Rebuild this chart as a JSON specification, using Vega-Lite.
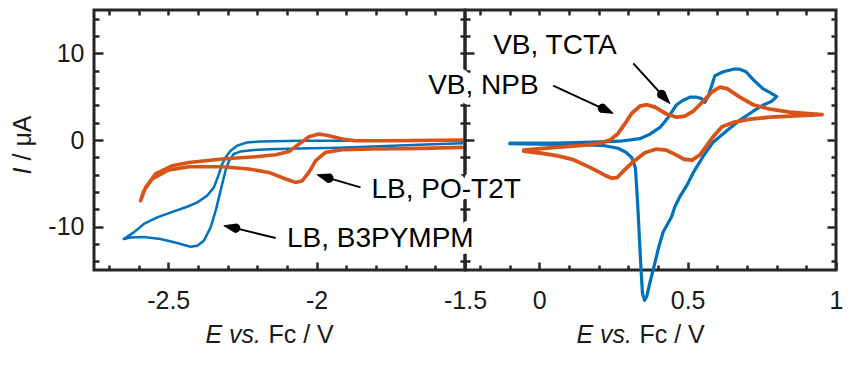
{
  "$schema": "https://vega.github.io/schema/vega-lite/v6.json",
  "background": "white",
  "padding": {"left": 8, "top": 7, "right": 20, "bottom": 10},
  "bounds": "flush",
  "spacing": 0,
  "config": {
    "view": {"stroke": "#262626", "strokeWidth": 3},
    "font": "Liberation Sans",
    "line": {"strokeCap": "round", "strokeJoin": "round"},
    "axis": {
      "grid": false, "domain": false,
      "tickColor": "#262626", "tickWidth": 2.5,
      "labelFont": "Liberation Sans", "labelFontSize": 25, "labelColor": "#1a1a1a",
      "titleFont": "Liberation Sans", "titleFontSize": 25, "titleFontWeight": "normal", "titleColor": "#1a1a1a",
      "labelOverlap": false, "labelFlush": false
    }
  },
  "datasets": {
    "b3pympm": [
      {"i":1,"E":-1.510,"I":-0.37},{"i":2,"E":-1.655,"I":-0.54},{"i":3,"E":-1.790,"I":-0.72},{"i":4,"E":-1.925,"I":-0.89},
      {"i":5,"E":-2.059,"I":-0.98},{"i":6,"E":-2.161,"I":-1.06},{"i":7,"E":-2.211,"I":-1.15},{"i":8,"E":-2.256,"I":-1.32},
      {"i":9,"E":-2.279,"I":-1.62},{"i":10,"E":-2.295,"I":-2.39},{"i":11,"E":-2.307,"I":-3.54},{"i":12,"E":-2.318,"I":-5.08},
      {"i":13,"E":-2.329,"I":-6.62},{"i":14,"E":-2.340,"I":-8.15},{"i":15,"E":-2.357,"I":-10.09},{"i":16,"E":-2.380,"I":-11.62},
      {"i":17,"E":-2.402,"I":-12.20},{"i":18,"E":-2.425,"I":-12.31},{"i":19,"E":-2.470,"I":-11.89},{"i":20,"E":-2.526,"I":-11.43},
      {"i":21,"E":-2.582,"I":-11.18},{"i":22,"E":-2.627,"I":-11.24},{"i":23,"E":-2.650,"I":-11.43},{"i":24,"E":-2.616,"I":-10.66},
      {"i":25,"E":-2.582,"I":-9.69},{"i":26,"E":-2.537,"I":-8.93},{"i":27,"E":-2.481,"I":-8.24},{"i":28,"E":-2.436,"I":-7.70},
      {"i":29,"E":-2.402,"I":-7.20},{"i":30,"E":-2.369,"I":-6.43},{"i":31,"E":-2.346,"I":-5.47},{"i":32,"E":-2.329,"I":-3.92},
      {"i":33,"E":-2.318,"I":-2.77},{"i":34,"E":-2.307,"I":-2.01},{"i":35,"E":-2.290,"I":-1.23},{"i":36,"E":-2.268,"I":-0.66},
      {"i":37,"E":-2.234,"I":-0.28},{"i":38,"E":-2.189,"I":-0.16},{"i":39,"E":-2.059,"I":-0.10},{"i":40,"E":-1.790,"I":-0.08},
      {"i":41,"E":-1.510,"I":-0.06}
    ],
    "pot2t": [
      {"i":1,"E":-1.509,"I":-0.85},{"i":2,"E":-1.644,"I":-0.97},{"i":3,"E":-1.812,"I":-1.04},{"i":4,"E":-1.914,"I":-1.12},
      {"i":5,"E":-1.970,"I":-1.43},{"i":6,"E":-2.003,"I":-2.39},{"i":7,"E":-2.026,"I":-3.74},{"i":8,"E":-2.048,"I":-4.70},
      {"i":9,"E":-2.071,"I":-4.89},{"i":10,"E":-2.104,"I":-4.50},{"i":11,"E":-2.161,"I":-3.74},{"i":12,"E":-2.228,"I":-3.35},
      {"i":13,"E":-2.318,"I":-3.08},{"i":14,"E":-2.430,"I":-3.08},{"i":15,"E":-2.498,"I":-3.46},{"i":16,"E":-2.554,"I":-4.50},
      {"i":17,"E":-2.582,"I":-5.85},{"i":18,"E":-2.593,"I":-7.00},{"i":19,"E":-2.576,"I":-5.47},{"i":20,"E":-2.543,"I":-3.92},
      {"i":21,"E":-2.487,"I":-2.97},{"i":22,"E":-2.430,"I":-2.59},{"i":23,"E":-2.318,"I":-2.19},{"i":24,"E":-2.206,"I":-1.93},
      {"i":25,"E":-2.138,"I":-1.70},{"i":26,"E":-2.093,"I":-1.32},{"i":27,"E":-2.059,"I":-0.46},{"i":28,"E":-2.026,"I":0.38},
      {"i":29,"E":-1.992,"I":0.69},{"i":30,"E":-1.958,"I":0.50},{"i":31,"E":-1.914,"I":0.12},{"i":32,"E":-1.869,"I":-0.08},
      {"i":33,"E":-1.756,"I":-0.08},{"i":34,"E":-1.509,"I":0.00}
    ],
    "tcta": [
      {"i":1,"E":-0.099,"I":-0.37},{"i":2,"E":0.059,"I":-0.35},{"i":3,"E":0.182,"I":-0.25},{"i":4,"E":0.272,"I":-0.14},
      {"i":5,"E":0.339,"I":0.15},{"i":6,"E":0.373,"I":0.67},{"i":7,"E":0.407,"I":1.45},{"i":8,"E":0.434,"I":2.57},
      {"i":9,"E":0.463,"I":4.07},{"i":10,"E":0.485,"I":4.59},{"i":11,"E":0.508,"I":4.94},{"i":12,"E":0.528,"I":4.96},
      {"i":13,"E":0.547,"I":4.77},{"i":14,"E":0.558,"I":4.34},{"i":15,"E":0.569,"I":5.00},{"i":16,"E":0.581,"I":6.27},
      {"i":17,"E":0.592,"I":7.42},{"i":18,"E":0.620,"I":7.88},{"i":19,"E":0.654,"I":8.17},{"i":20,"E":0.676,"I":8.17},
      {"i":21,"E":0.697,"I":7.88},{"i":22,"E":0.721,"I":6.96},{"i":23,"E":0.755,"I":5.89},{"i":24,"E":0.781,"I":5.40},
      {"i":25,"E":0.800,"I":5.00},{"i":26,"E":0.784,"I":4.48},{"i":27,"E":0.754,"I":4.02},{"i":28,"E":0.721,"I":3.32},
      {"i":29,"E":0.676,"I":2.29},{"i":30,"E":0.632,"I":1.07},{"i":31,"E":0.586,"I":-0.25},{"i":32,"E":0.553,"I":-1.87},
      {"i":33,"E":0.519,"I":-3.77},{"i":34,"E":0.497,"I":-5.27},{"i":35,"E":0.474,"I":-6.54},{"i":36,"E":0.457,"I":-7.70},
      {"i":37,"E":0.446,"I":-8.85},{"i":38,"E":0.435,"I":-9.54},{"i":39,"E":0.418,"I":-10.58},{"i":40,"E":0.403,"I":-12.31},
      {"i":41,"E":0.390,"I":-14.16},{"i":42,"E":0.373,"I":-16.47},{"i":43,"E":0.362,"I":-18.08},{"i":44,"E":0.355,"I":-18.49},
      {"i":45,"E":0.348,"I":-17.74},{"i":46,"E":0.343,"I":-14.85},{"i":47,"E":0.338,"I":-11.62},{"i":48,"E":0.333,"I":-8.16},
      {"i":49,"E":0.328,"I":-5.27},{"i":50,"E":0.324,"I":-3.20},{"i":51,"E":0.312,"I":-2.04},{"i":52,"E":0.292,"I":-1.41},
      {"i":53,"E":0.265,"I":-0.95},{"i":54,"E":0.221,"I":-0.66},{"i":55,"E":0.137,"I":-0.54},{"i":56,"E":0.002,"I":-0.48},
      {"i":57,"E":-0.099,"I":-0.43}
    ],
    "npb": [
      {"i":1,"E":-0.052,"I":-1.18},{"i":2,"E":0.002,"I":-1.00},{"i":3,"E":0.070,"I":-0.83},{"i":4,"E":0.154,"I":-0.60},
      {"i":5,"E":0.205,"I":-0.37},{"i":6,"E":0.238,"I":-0.02},{"i":7,"E":0.265,"I":0.73},{"i":8,"E":0.289,"I":1.88},
      {"i":9,"E":0.312,"I":3.09},{"i":10,"E":0.339,"I":3.90},{"i":11,"E":0.363,"I":4.07},{"i":12,"E":0.390,"I":3.79},
      {"i":13,"E":0.429,"I":3.00},{"i":14,"E":0.463,"I":2.63},{"i":15,"E":0.491,"I":2.75},{"i":16,"E":0.519,"I":3.32},
      {"i":17,"E":0.553,"I":4.48},{"i":18,"E":0.581,"I":5.52},{"i":19,"E":0.609,"I":6.09},{"i":20,"E":0.633,"I":5.92},
      {"i":21,"E":0.676,"I":4.94},{"i":22,"E":0.721,"I":4.07},{"i":23,"E":0.778,"I":3.55},{"i":24,"E":0.845,"I":3.21},
      {"i":25,"E":0.896,"I":3.07},{"i":26,"E":0.953,"I":2.92},{"i":27,"E":0.896,"I":2.84},{"i":28,"E":0.845,"I":2.75},
      {"i":29,"E":0.778,"I":2.63},{"i":30,"E":0.710,"I":2.40},{"i":31,"E":0.654,"I":2.03},{"i":32,"E":0.616,"I":1.53},
      {"i":33,"E":0.586,"I":0.38},{"i":34,"E":0.562,"I":-0.77},{"i":35,"E":0.542,"I":-1.70},{"i":36,"E":0.515,"I":-2.33},
      {"i":37,"E":0.488,"I":-2.22},{"i":38,"E":0.463,"I":-1.75},{"i":39,"E":0.429,"I":-1.18},{"i":40,"E":0.393,"I":-1.06},
      {"i":41,"E":0.356,"I":-1.47},{"i":42,"E":0.317,"I":-2.50},{"i":43,"E":0.285,"I":-3.54},{"i":44,"E":0.262,"I":-4.35},
      {"i":45,"E":0.245,"I":-4.41},{"i":46,"E":0.221,"I":-4.06},{"i":47,"E":0.171,"I":-3.16},{"i":48,"E":0.115,"I":-2.27},
      {"i":49,"E":0.059,"I":-1.81},{"i":50,"E":0.002,"I":-1.50},{"i":51,"E":-0.052,"I":-1.29}
    ],
    "arrows": [
      {"panel":"L","name":"B3PYMPM","x1":-2.138,"y1":-11.31,"x2":-2.273,"y2":-10.17},
      {"panel":"L","name":"PO-T2T","x1":-1.852,"y1":-5.47,"x2":-1.959,"y2":-4.40},
      {"panel":"R","name":"NPB","x1":0.047,"y1":6.27,"x2":0.213,"y2":3.65},
      {"panel":"R","name":"TCTA","x1":0.317,"y1":8.84,"x2":0.413,"y2":5.24}
    ],
    "heads": [
      {"panel":"L","name":"B3PYMPM","k":0,"hx":-2.273,"hy":-10.17},
      {"panel":"L","name":"B3PYMPM","k":1,"hx":-2.312,"hy":-9.89},
      {"panel":"L","name":"PO-T2T","k":0,"hx":-1.959,"hy":-4.40},
      {"panel":"L","name":"PO-T2T","k":1,"hx":-1.998,"hy":-4.00},
      {"panel":"R","name":"NPB","k":0,"hx":0.213,"hy":3.65},
      {"panel":"R","name":"NPB","k":1,"hx":0.249,"hy":3.07},
      {"panel":"R","name":"TCTA","k":0,"hx":0.413,"hy":5.24},
      {"panel":"R","name":"TCTA","k":1,"hx":0.440,"hy":4.22}
    ],
    "notes": [
      {"label":"LB, B3PYMPM","x":-0.850,"y":-11.39},
      {"label":"LB, PO-T2T","x":-0.565,"y":-5.76},
      {"label":"VB, NPB","x":-0.374,"y":6.27},
      {"label":"VB, TCTA","x":-0.155,"y":10.79}
    ]
  },
  "hconcat": [
    {
      "width": 371, "height": 260,
      "layer": [
        {
          "data": {"name": "b3pympm"},
          "mark": {"type": "line", "color": "#0072BD", "strokeWidth": 2.5},
          "encoding": {
            "x": {"field": "E", "type": "quantitative", "scale": {"domain": [-2.75, -1.5], "nice": false, "zero": false},
              "axis": {"orient": "bottom", "values": [-2.5, -2.0, -1.5], "ticks": false,
                "labelExpr": "'' + datum.value", "labelPadding": 18,
                "title": "E vs.", "titleFontStyle": "italic", "titleX": 111, "titleY": 72, "titleAlign": "left", "titleAnchor": "start", "titleBaseline": "alphabetic"}},
            "y": {"field": "I", "type": "quantitative", "scale": {"domain": [-15, 15], "nice": false, "zero": false},
              "axis": {"orient": "left", "values": [-10, 0, 10], "ticks": false,
                "labelExpr": "'' + datum.value", "labelPadding": 10,
                "title": "I", "titleFontStyle": "italic", "titleAngle": 270, "titleX": -64, "titleY": 164, "titleAlign": "left", "titleAnchor": "start", "titleBaseline": "alphabetic"}},
            "order": {"field": "i", "type": "quantitative"}
          }
        },
        {
          "data": {"name": "pot2t"},
          "mark": {"type": "line", "color": "#D95319", "strokeWidth": 3.6},
          "encoding": {
            "x": {"field": "E", "type": "quantitative", "scale": {"domain": [-2.75, -1.5], "nice": false, "zero": false},
              "axis": {"orient": "bottom", "values": [-2.5, -2.0, -1.5], "tickSize": -8, "labels": false,
                "title": "Fc / V", "titleX": 174, "titleY": 72, "titleAlign": "left", "titleAnchor": "start", "titleBaseline": "alphabetic"}},
            "y": {"field": "I", "type": "quantitative", "scale": {"domain": [-15, 15], "nice": false, "zero": false},
              "axis": {"orient": "left", "values": [-10, 0, 10], "tickSize": -9, "labels": false,
                "title": "/ μA", "titleAngle": 270, "titleX": -64, "titleY": 150, "titleAlign": "left", "titleAnchor": "start", "titleBaseline": "alphabetic"}},
            "order": {"field": "i", "type": "quantitative"}
          }
        },
        {
          "data": {"name": "arrows"},
          "transform": [{"filter": "datum.panel == 'L'"}],
          "mark": {"type": "rule", "color": "black", "strokeWidth": 2},
          "encoding": {
            "x": {"field": "x1", "type": "quantitative", "scale": {"domain": [-2.75, -1.5], "nice": false, "zero": false},
              "axis": {"orient": "bottom", "values": [-2.7,-2.6,-2.4,-2.3,-2.2,-2.1,-1.9,-1.8,-1.7,-1.6], "tickSize": -5, "labels": false, "title": null}},
            "y": {"field": "y1", "type": "quantitative", "scale": {"domain": [-15, 15], "nice": false, "zero": false},
              "axis": {"orient": "left", "values": [-14,-12,-8,-6,-4,-2,2,4,6,8,12,14], "tickSize": -5, "labels": false, "title": null}},
            "x2": {"field": "x2"},
            "y2": {"field": "y2"}
          }
        },
        {
          "data": {"name": "heads"},
          "transform": [{"filter": "datum.panel == 'L'"}],
          "mark": {"type": "trail", "color": "black"},
          "encoding": {
            "x": {"field": "hx", "type": "quantitative", "scale": {"domain": [-2.75, -1.5], "nice": false, "zero": false},
              "axis": {"orient": "top", "values": [-2.7,-2.6,-2.5,-2.4,-2.3,-2.2,-2.1,-2.0,-1.9,-1.8,-1.7,-1.6], "tickSize": -5, "labels": false, "title": null}},
            "y": {"field": "hy", "type": "quantitative", "scale": {"domain": [-15, 15], "nice": false, "zero": false},
              "axis": {"orient": "right", "values": [-14,-12,-10,-8,-6,-4,-2,0,2,4,6,8,10,12,14], "tickSize": -5, "labels": false, "title": null}},
            "size": {"field": "k", "type": "quantitative", "scale": {"domain": [0, 1], "range": [9.5, 0], "zero": false}, "legend": null},
            "detail": {"field": "name"},
            "order": {"field": "k", "type": "quantitative"}
          }
        }
      ],
      "resolve": {"axis": {"x": "independent", "y": "independent"}}
    },
    {
      "width": 371, "height": 260,
      "layer": [
        {
          "data": {"name": "notes"},
          "mark": {"type": "text", "align": "left", "baseline": "middle", "fontSize": 28, "font": "Liberation Sans", "color": "white", "stroke": "white", "strokeWidth": 14, "strokeJoin": "round"},
          "encoding": {
            "x": {"field": "x", "type": "quantitative", "scale": {"domain": [-0.25, 1.0], "nice": false, "zero": false}, "axis": null},
            "y": {"field": "y", "type": "quantitative", "scale": {"domain": [-15, 15], "nice": false, "zero": false}, "axis": null},
            "text": {"field": "label"}
          }
        },
        {
          "data": {"name": "tcta"},
          "mark": {"type": "line", "color": "#0072BD", "strokeWidth": 3.2},
          "encoding": {
            "x": {"field": "E", "type": "quantitative", "scale": {"domain": [-0.25, 1.0], "nice": false, "zero": false},
              "axis": {"orient": "bottom", "values": [0, 0.5, 1.0], "ticks": false,
                "labelExpr": "'' + datum.value", "labelPadding": 18,
                "title": "E vs.", "titleFontStyle": "italic", "titleX": 111, "titleY": 72, "titleAlign": "left", "titleAnchor": "start", "titleBaseline": "alphabetic"}},
            "y": {"field": "I", "type": "quantitative", "scale": {"domain": [-15, 15], "nice": false, "zero": false},
              "axis": {"orient": "left", "values": [-10, 0, 10], "tickSize": -9, "labels": false, "title": null}},
            "order": {"field": "i", "type": "quantitative"}
          }
        },
        {
          "data": {"name": "npb"},
          "mark": {"type": "line", "color": "#D95319", "strokeWidth": 3.8},
          "encoding": {
            "x": {"field": "E", "type": "quantitative", "scale": {"domain": [-0.25, 1.0], "nice": false, "zero": false},
              "axis": {"orient": "bottom", "values": [0, 0.5, 1.0], "tickSize": -8, "labels": false,
                "title": "Fc / V", "titleX": 174, "titleY": 72, "titleAlign": "left", "titleAnchor": "start", "titleBaseline": "alphabetic"}},
            "y": {"field": "I", "type": "quantitative", "scale": {"domain": [-15, 15], "nice": false, "zero": false},
              "axis": {"orient": "left", "values": [-14,-12,-8,-6,-4,-2,2,4,6,8,12,14], "tickSize": -5, "labels": false, "title": null}},
            "order": {"field": "i", "type": "quantitative"}
          }
        },
        {
          "data": {"name": "arrows"},
          "transform": [{"filter": "datum.panel == 'R'"}],
          "mark": {"type": "rule", "color": "black", "strokeWidth": 2},
          "encoding": {
            "x": {"field": "x1", "type": "quantitative", "scale": {"domain": [-0.25, 1.0], "nice": false, "zero": false},
              "axis": {"orient": "bottom", "values": [-0.2,-0.1,0.1,0.2,0.3,0.4,0.6,0.7,0.8,0.9], "tickSize": -5, "labels": false, "title": null}},
            "y": {"field": "y1", "type": "quantitative", "scale": {"domain": [-15, 15], "nice": false, "zero": false},
              "axis": {"orient": "right", "values": [-10, 0, 10], "tickSize": -9, "labels": false, "title": null}},
            "x2": {"field": "x2"},
            "y2": {"field": "y2"}
          }
        },
        {
          "data": {"name": "heads"},
          "transform": [{"filter": "datum.panel == 'R'"}],
          "mark": {"type": "trail", "color": "black"},
          "encoding": {
            "x": {"field": "hx", "type": "quantitative", "scale": {"domain": [-0.25, 1.0], "nice": false, "zero": false},
              "axis": {"orient": "top", "values": [-0.2,-0.1,0,0.1,0.2,0.3,0.4,0.5,0.6,0.7,0.8,0.9], "tickSize": -5, "labels": false, "title": null}},
            "y": {"field": "hy", "type": "quantitative", "scale": {"domain": [-15, 15], "nice": false, "zero": false},
              "axis": {"orient": "right", "values": [-14,-12,-8,-6,-4,-2,2,4,6,8,12,14], "tickSize": -5, "labels": false, "title": null}},
            "size": {"field": "k", "type": "quantitative", "scale": {"domain": [0, 1], "range": [9.5, 0], "zero": false}, "legend": null},
            "detail": {"field": "name"},
            "order": {"field": "k", "type": "quantitative"}
          }
        },
        {
          "data": {"name": "notes"},
          "mark": {"type": "text", "align": "left", "baseline": "middle", "fontSize": 28, "font": "Liberation Sans", "color": "black"},
          "encoding": {
            "x": {"field": "x", "type": "quantitative", "scale": {"domain": [-0.25, 1.0], "nice": false, "zero": false}, "axis": null},
            "y": {"field": "y", "type": "quantitative", "scale": {"domain": [-15, 15], "nice": false, "zero": false}, "axis": null},
            "text": {"field": "label"}
          }
        }
      ],
      "resolve": {"axis": {"x": "independent", "y": "independent"}}
    }
  ]
}
